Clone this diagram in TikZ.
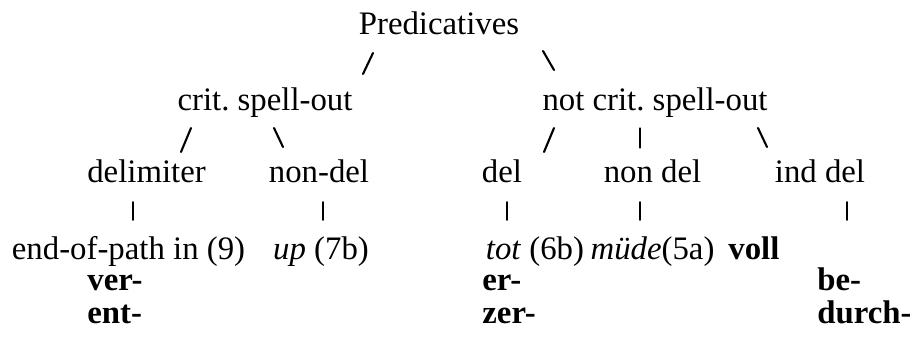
\documentclass[tikz,border=0pt]{standalone}
\usepackage{fontspec}
\setmainfont{Liberation Serif}
\frenchspacing
\begin{document}
\begin{tikzpicture}[x=0.5pt,y=-0.5pt,
  lbl/.style={inner sep=0pt, anchor=base, font=\fontsize{16.4}{19}\selectfont},
  lblw/.style={lbl, anchor=base west},
  strong/.style={font=\fontsize{16.4}{19}\selectfont\bfseries},
  branch/.style={line width=1.05pt, line cap=round},
  stem/.style={line width=0.8pt, line cap=round}]
\useasboundingbox (0,0) rectangle (910,339);

% level 0
\node[lbl] (pred) at (439,34) {Predicatives};

% level 1
\node[lbl] (crit) at (265,110) {crit. spell-out};
\node[lbl] (ncrit) at (655,110) {not crit. spell-out};

% level 2
\node[lbl] (delim) at (146.5,182) {delimiter};
\node[lbl] (nondelA) at (319,182) {non-del};
\node[lbl] (del) at (502,182) {del};
\node[lbl] (nondelB) at (652.5,182) {non del};
\node[lbl] (inddel) at (820,182) {ind del};

% level 3: examples
\node[lbl] (eop) at (128.5,259) {end-of-path in (9)};
\node[lbl] (up) at (321,259) {\textit{up} (7b)};
\node[lbl] (tot) at (535,259) {\textit{tot} (6b)};
\node[lbl] (muede) at (652.5,259) {\textit{müde}(5a)};
\node[lblw,strong] (voll) at (728,259) {voll};

% prefixes
\node[lblw,strong] (ver) at (87,290) {ver-};
\node[lblw,strong] (ent) at (87,323) {ent-};
\node[lblw,strong] (er) at (482,290) {er-};
\node[lblw,strong] (zer) at (482,323) {zer-};
\node[lblw,strong] (be) at (817,290) {be-};
\node[lblw,strong] (durch) at (817,323) {durch-};

% branch marks
\coordinate (p1a) at (373,53);  \coordinate (p1b) at (363,74);
\coordinate (p2a) at (543,51);  \coordinate (p2b) at (554,70);
\draw[branch] (p1a) -- (p1b);
\draw[branch] (p2a) -- (p2b);

\coordinate (c1a) at (191,128); \coordinate (c1b) at (181,152);
\coordinate (c2a) at (274,128); \coordinate (c2b) at (283,147);
\draw[branch] (c1a) -- (c1b);
\draw[branch] (c2a) -- (c2b);

\coordinate (n1a) at (554,128); \coordinate (n1b) at (544,152);
\coordinate (n2a) at (640,128); \coordinate (n2b) at (640,148);
\coordinate (n3a) at (758,128); \coordinate (n3b) at (767,147);
\draw[branch] (n1a) -- (n1b);
\draw[stem, line width=0.6pt] (n2a) -- (n2b);
\draw[branch] (n3a) -- (n3b);

\coordinate (d1a) at (133,202); \coordinate (d1b) at (133,220);
\coordinate (d2a) at (323,202); \coordinate (d2b) at (323,220);
\coordinate (d3a) at (507,202); \coordinate (d3b) at (507,220);
\coordinate (d4a) at (640,202); \coordinate (d4b) at (640,220);
\coordinate (d5a) at (847,202); \coordinate (d5b) at (847,220);
\foreach \i in {1,...,5} \draw[stem] (d\i a) -- (d\i b);
\end{tikzpicture}
\end{document}
